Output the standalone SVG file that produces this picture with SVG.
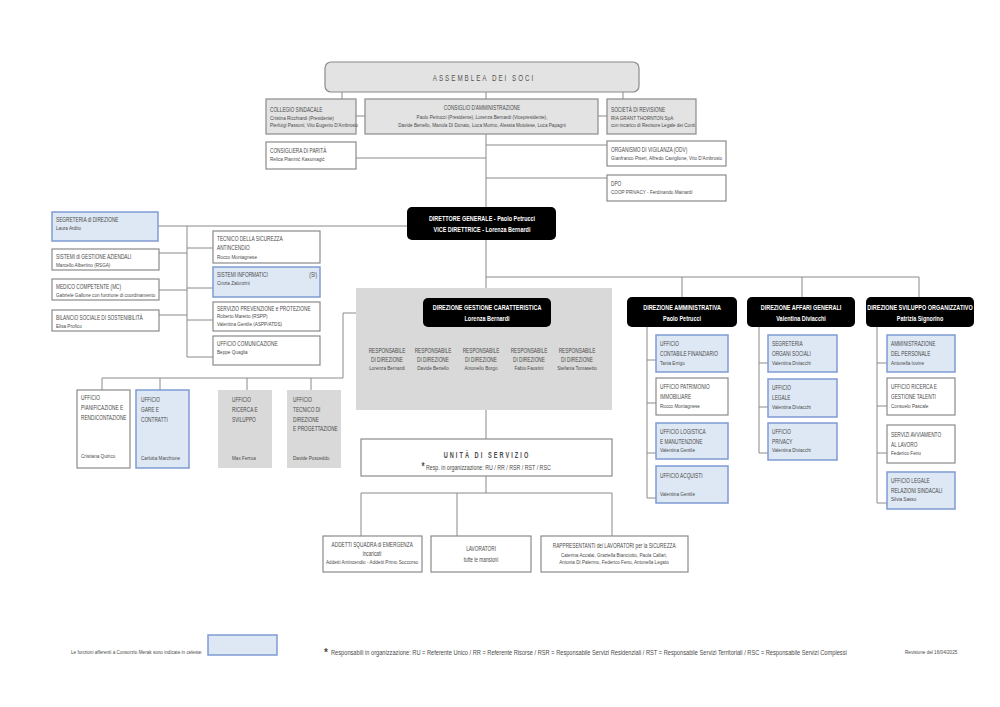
<svg xmlns="http://www.w3.org/2000/svg" width="1000" height="707" viewBox="0 0 1000 707">
<style>
text{font-family:"Liberation Sans",Arial,sans-serif;fill:#4a4a4a;transform-box:fill-box;transform-origin:0 50%;transform:scaleX(.66)}
.c{text-anchor:middle;transform-origin:50% 50%}
.e{text-anchor:end;transform-origin:100% 50%}
.nt{transform:none}
.h{font-size:7.2px}
.s{font-size:5.8px;transform:scaleX(.8)}
.w{fill:#fff;font-weight:bold;font-size:7.4px;transform:scaleX(.74)}
.g{fill:#e3e3e3;stroke:#8a8a8a;stroke-width:1.2}
.n{fill:#fff;stroke:#8a8a8a;stroke-width:1.2}
.b{fill:#dee8f4;stroke:#7f9bd3;stroke-width:1.5}
.k{fill:#000}
.d{fill:#d9d9d9}
.ln{fill:none;stroke:#8a8a8a;stroke-width:1}
</style>
<rect width="1000" height="707" fill="#fff"/>
<g id="connectors" class="ln">
<path d="M342 92V99M486 92V99M623 92V99M356 116H365M598 116H607"/>
<path d="M486 134V207M356 158H486M486 145H607M486 178H607"/>
<path d="M486 240V288M486 277H919M682 277V297M802 277V297M919 277V297"/>
<path d="M158 226H407M187 226V357M159 253H187M159 290H187M159 315H187M187 248H213M187 288H213M187 320H213M187 357H213"/>
<path d="M423 313H343V378H102V390M160 378V390M247 378V390M311 378V390"/>
<path d="M486 410V439M486 476V493M361 493H612M361 493V536M457 493V536M612 493V536"/>
<path d="M647 327V498M647 360H656M647 403H656M647 453H656M647 498H656"/>
<path d="M759 327V453M759 363H768M759 407H768M759 453H768"/>
<path d="M877 327V503M877 363H887M877 406H887M877 453H887M877 503H887"/>
</g>
<g id="assemblea"><rect class="g" x="325" y="62" width="314" height="30" rx="6"/><text class="c" x="484" y="81" style="font-size:9.5px;letter-spacing:3px;fill:#555">ASSEMBLEA DEI SOCI</text></g>
<g id="collegio"><rect class="g" x="266" y="99" width="90" height="35"/><text class="h" x="270" y="112">COLLEGIO SINDACALE</text><text class="s" x="270" y="120">Cristina Ricchiardi (Presidente)</text><text class="s" x="270" y="127">Pierluigi Passoni, Vito Eugenio D'Ambrosio</text></g>
<g id="consiglio"><rect class="g" x="365" y="99" width="233" height="35"/><text class="h c" x="482" y="110">CONSIGLIO D'AMMINISTRAZIONE</text><text class="s c" x="482" y="119">Paolo Petrucci (Presidente), Lorenza Bernardi (Vicepresidente),</text><text class="s c" x="482" y="127">Davide Bertello, Manola Di Donato, Luca Morino, Alessia Motolese, Luca Papagni</text></g>
<g id="revisione"><rect class="g" x="607" y="99" width="89" height="35"/><text class="h" x="611" y="112">SOCIETÀ DI REVISIONE</text><text class="s" x="611" y="120">RIA GRANT THORNTON SpA</text><text class="s" x="611" y="127">con incarico di Revisore Legale dei Conti</text></g>
<g id="parita"><rect class="n" x="266" y="142" width="90" height="27"/><text class="h" x="270" y="153">CONSIGLIERA DI PARITÀ</text><text class="s" x="270" y="161">Relica Planinić Kasumagić</text></g>
<g id="odv"><rect class="n" x="607" y="141" width="119" height="25"/><text class="h" x="611" y="152">ORGANISMO DI VIGILANZA (ODV)</text><text class="s" x="611" y="160">Gianfranco Piseri, Alfredo Caviglione, Vito D'Ambrosio</text></g>
<g id="dpo"><rect class="n" x="607" y="175" width="119" height="26"/><text class="h" x="611" y="186">DPO</text><text class="s" x="611" y="194">COOP PRIVACY - Ferdinando Mainardi</text></g>
<g id="dg"><rect class="k" x="407" y="207" width="149" height="33" rx="5"/><text class="w c" x="482" y="221">DIRETTORE GENERALE - Paolo Petrucci</text><text class="w c" x="482" y="232">VICE DIRETTRICE - Lorenza Bernardi</text></g>
<g id="segreteria"><rect class="b" x="52" y="212" width="106" height="29"/><text class="h" x="56" y="222">SEGRETERIA di DIREZIONE</text><text class="s" x="56" y="230">Laura Ardito</text></g>
<g id="sga"><rect class="n" x="52" y="249" width="107" height="21"/><text class="h" x="56" y="259">SISTEMI di GESTIONE AZIENDALI</text><text class="s" x="56" y="267">Marcello Albertino (RSGA)</text></g>
<g id="medico"><rect class="n" x="52" y="279" width="107" height="21"/><text class="h" x="56" y="289">MEDICO COMPETENTE (MC)</text><text class="s" x="56" y="297">Gabriele Gallone con funzione di coordinamento</text></g>
<g id="bilancio"><rect class="n" x="52" y="310" width="107" height="21"/><text class="h" x="56" y="320">BILANCIO SOCIALE DI SOSTENIBILITÀ</text><text class="s" x="56" y="328">Elisa Profico</text></g>
<g id="tecnico-sicurezza"><rect class="n" x="213" y="231" width="107" height="32"/><text class="h" x="217" y="241">TECNICO DELLA SICUREZZA</text><text class="h" x="217" y="250">ANTINCENDIO</text><text class="s" x="217" y="259">Rocco Montagnese</text></g>
<g id="si"><rect class="b" x="213" y="267" width="107" height="30"/><text class="h" x="217" y="277">SISTEMI INFORMATICI</text><text class="h e" x="317" y="277">(SI)</text><text class="s" x="217" y="285">Cinzia Zalonzini</text></g>
<g id="spp"><rect class="n" x="213" y="302" width="107" height="29"/><text class="h" x="217" y="311">SERVIZIO PREVENZIONE e PROTEZIONE</text><text class="s" x="217" y="318">Roberto Maretto (RSPP)</text><text class="s" x="217" y="326">Valentina Gentile (ASPP/ATDS)</text></g>
<g id="comunicazione"><rect class="n" x="213" y="336" width="107" height="29"/><text class="h" x="217" y="346">UFFICIO COMUNICAZIONE</text><text class="s" x="217" y="354">Beppe Quaglia</text></g>
<g id="dgc"><rect class="d" x="356" y="288" width="256" height="122"/><rect class="k" x="423" y="298" width="128" height="29" rx="5"/><text class="w c" x="487" y="310">DIREZIONE GESTIONE CARATTERISTICA</text><text class="w c" x="487" y="321">Lorenza Bernardi</text>
<text class="h c" x="387" y="353">RESPONSABILE</text><text class="h c" x="387" y="362">DI DIREZIONE</text><text class="s c" x="387" y="370">Lorenza Bernardi</text>
<text class="h c" x="433" y="353">RESPONSABILE</text><text class="h c" x="433" y="362">DI DIREZIONE</text><text class="s c" x="433" y="370">Davide Bertello</text>
<text class="h c" x="481" y="353">RESPONSABILE</text><text class="h c" x="481" y="362">DI DIREZIONE</text><text class="s c" x="481" y="370">Antonello Borgo</text>
<text class="h c" x="529" y="353">RESPONSABILE</text><text class="h c" x="529" y="362">DI DIREZIONE</text><text class="s c" x="529" y="370">Fabio Faustini</text>
<text class="h c" x="577" y="353">RESPONSABILE</text><text class="h c" x="577" y="362">DI DIREZIONE</text><text class="s c" x="577" y="370">Stefania Tomasetto</text></g>
<g id="pianificazione"><rect class="n" x="77" y="390" width="53" height="78"/><text class="h" x="81" y="400">UFFICIO</text><text class="h" x="81" y="410">PIANIFICAZIONE E</text><text class="h" x="81" y="420">RENDICONTAZIONE</text><text class="s" x="81" y="458">Cristiana Quirico</text></g>
<g id="gare"><rect class="b" x="136" y="390" width="53" height="78"/><text class="h" x="141" y="402">UFFICIO</text><text class="h" x="141" y="412">GARE E</text><text class="h" x="141" y="422">CONTRATTI</text><text class="s" x="141" y="460">Carlotta Marchione</text></g>
<g id="ricerca-sviluppo"><rect class="d" x="218" y="390" width="54" height="78"/><text class="h" x="232" y="402">UFFICIO</text><text class="h" x="232" y="412">RICERCA E</text><text class="h" x="232" y="422">SVILUPPO</text><text class="s" x="232" y="460">Max Ferrua</text></g>
<g id="tecnico-direzione"><rect class="d" x="287" y="390" width="54" height="78"/><text class="h" x="293" y="402">UFFICIO</text><text class="h" x="293" y="412">TECNICO DI</text><text class="h" x="293" y="422">DIREZIONE</text><text class="h" x="293" y="431">E PROGETTAZIONE</text><text class="s" x="293" y="460">Davide Pusceddu</text></g>
<g id="unita"><rect class="n" x="361" y="439" width="251" height="37"/><text class="c" x="487" y="458" style="font-size:8.5px;font-weight:bold;letter-spacing:3.1px">UNITÀ DI SERVIZIO</text><text class="c" x="486" y="470" style="font-size:6.6px;transform:scaleX(.8)"><tspan style="font-size:10px;font-weight:bold">*</tspan> Resp. in organizzazione: RU / RR / RSR / RST / RSC</text></g>
<g id="addetti"><rect class="n" x="323" y="536" width="99" height="36"/><text class="h c" x="372" y="547">ADDETTI SQUADRA di EMERGENZA</text><text class="h c" x="372" y="556">incaricati</text><text class="s c" x="372" y="564">Addetti Antincendio - Addetti Primo Soccorso</text></g>
<g id="lavoratori"><rect class="n" x="431" y="536" width="100" height="36"/><text class="h c" x="481" y="551">LAVORATORI</text><text class="h c" x="481" y="562">tutte le mansioni</text></g>
<g id="rls"><rect class="n" x="541" y="536" width="147" height="36"/><text class="h c" x="614" y="548">RAPPRESENTANTI dei LAVORATORI per la SICUREZZA</text><text class="s c" x="614" y="557">Caterina Accalai, Graziella Bianciotto, Paola Callari,</text><text class="s c" x="614" y="564">Antonia Di Palermo, Federico Fenu, Antonella Legato</text></g>
<g id="da"><rect class="k" x="627" y="297" width="110" height="30" rx="5"/><text class="w c" x="682" y="310">DIREZIONE AMMINISTRATIVA</text><text class="w c" x="682" y="321">Paolo Petrucci</text></g>
<g id="dag"><rect class="k" x="747" y="297" width="108" height="30" rx="5"/><text class="w c" x="801" y="310">DIREZIONE AFFARI GENERALI</text><text class="w c" x="801" y="321">Valentina Diviacchi</text></g>
<g id="dso"><rect class="k" x="866" y="297" width="108" height="30" rx="5"/><text class="w c" x="920" y="310">DIREZIONE SVILUPPO ORGANIZZATIVO</text><text class="w c" x="920" y="321">Patrizia Signorino</text></g>
<g id="contabile"><rect class="b" x="656" y="335" width="72" height="37"/><text class="h" x="660" y="346">UFFICIO</text><text class="h" x="660" y="356">CONTABILE FINANZIARIO</text><text class="s" x="660" y="365">Tania Errigo</text></g>
<g id="patrimonio"><rect class="n" x="656" y="378" width="72" height="37"/><text class="h" x="660" y="389">UFFICIO PATRIMONIO</text><text class="h" x="660" y="399">IMMOBILIARE</text><text class="s" x="660" y="408">Rocco Montagnese</text></g>
<g id="logistica"><rect class="b" x="656" y="423" width="72" height="36"/><text class="h" x="660" y="434">UFFICIO LOGISTICA</text><text class="h" x="660" y="444">E MANUTENZIONE</text><text class="s" x="660" y="452">Valentina Gentile</text></g>
<g id="acquisti"><rect class="b" x="656" y="466" width="72" height="37"/><text class="h" x="660" y="478">UFFICIO ACQUISTI</text><text class="s" x="660" y="496">Valentina Gentile</text></g>
<g id="organi"><rect class="b" x="768" y="335" width="69" height="37"/><text class="h" x="772" y="346">SEGRETERIA</text><text class="h" x="772" y="356">ORGANI SOCIALI</text><text class="s" x="772" y="365">Valentina Diviacchi</text></g>
<g id="legale"><rect class="b" x="768" y="379" width="69" height="38"/><text class="h" x="772" y="390">UFFICIO</text><text class="h" x="772" y="400">LEGALE</text><text class="s" x="772" y="409">Valentina Diviacchi</text></g>
<g id="privacy"><rect class="b" x="768" y="423" width="69" height="37"/><text class="h" x="772" y="434">UFFICIO</text><text class="h" x="772" y="444">PRIVACY</text><text class="s" x="772" y="452">Valentina Diviacchi</text></g>
<g id="personale"><rect class="b" x="887" y="335" width="68" height="37"/><text class="h" x="891" y="346">AMMINISTRAZIONE</text><text class="h" x="891" y="356">DEL PERSONALE</text><text class="s" x="891" y="365">Antonella Iovine</text></g>
<g id="talenti"><rect class="n" x="887" y="378" width="68" height="37"/><text class="h" x="891" y="389">UFFICIO RICERCA E</text><text class="h" x="891" y="399">GESTIONE TALENTI</text><text class="s" x="891" y="408">Consuelo Pascale</text></g>
<g id="avviamento"><rect class="n" x="887" y="425" width="68" height="38"/><text class="h" x="891" y="437">SERVIZI AVVIAMENTO</text><text class="h" x="891" y="447">AL LAVORO</text><text class="s" x="891" y="455">Federico Fenu</text></g>
<g id="sindacali"><rect class="b" x="887" y="472" width="68" height="37"/><text class="h" x="891" y="483">UFFICIO LEGALE</text><text class="h" x="891" y="493">RELAZIONI SINDACALI</text><text class="s" x="891" y="501">Silvia Sasso</text></g>
<g id="legend"><text class="s" x="71" y="654">Le funzioni afferenti a Consorzio Merak sono indicate in celeste:</text><rect class="b" x="208" y="635" width="69" height="20"/>
<text class="nt" x="324" y="656" style="font-size:10px;font-weight:bold">*</text>
<text x="331" y="655" style="font-size:7px;transform:scaleX(.812)">Responsabili in organizzazione: RU = Referente Unico  /  RR = Referente Risorse  /  RSR = Responsabile Servizi Residenziali  /  RST = Responsabile Servizi Territoriali  /  RSC = Responsabile Servizi Complessi</text>
<text class="s" x="905" y="654">Revisione del 16/04/2025</text></g>
</svg>
